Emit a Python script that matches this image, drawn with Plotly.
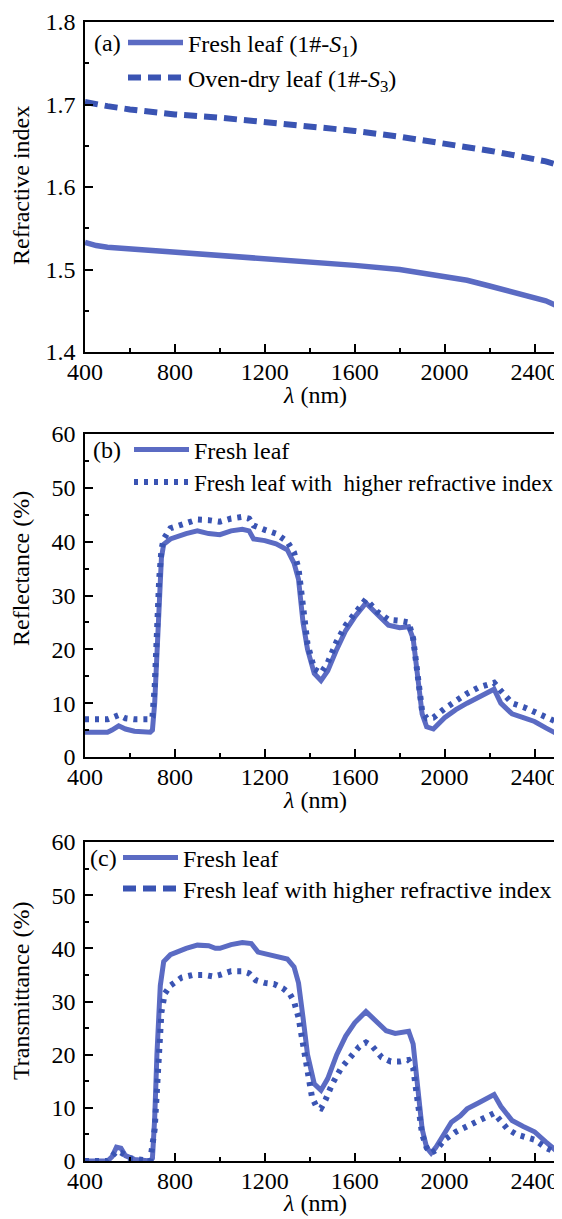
import plotly.graph_objects as go

# ---------------- data ----------------
# (a) refractive index
wl_a = [400, 450, 500, 600, 800, 1000, 1200, 1400, 1600, 1800, 2000, 2100, 2200, 2300, 2400, 2450, 2500]
n_fresh = [1.533, 1.529, 1.527, 1.525, 1.522, 1.518, 1.514, 1.510, 1.505, 1.500, 1.492, 1.487, 1.480, 1.473, 1.466, 1.462, 1.456]
n_dry = [1.703, 1.700, 1.698, 1.694, 1.688, 1.684, 1.679, 1.674, 1.668, 1.661, 1.653, 1.649, 1.644, 1.639, 1.634, 1.631, 1.627]

# (b) reflectance
wl_rf = [400, 500, 520, 550, 580, 620, 690, 700, 710, 720, 730, 740, 750, 780, 850, 900, 950, 1000,
         1050, 1100, 1130, 1150, 1200, 1250, 1300, 1330, 1350, 1370, 1390, 1420, 1450, 1480, 1520,
         1560, 1600, 1650, 1700, 1750, 1800, 1840, 1860, 1880, 1900, 1920, 1950, 2000, 2050, 2100,
         2150, 2200, 2220, 2250, 2300, 2350, 2400, 2450, 2500]
refl_fresh = [4.6, 4.6, 5.0, 5.8, 5.2, 4.8, 4.6, 5.0, 10.0, 20.0, 30.0, 37.0, 39.5, 40.5, 41.5, 42.0, 41.5, 41.3,
              42.0, 42.3, 42.0, 40.5, 40.2, 39.6, 38.5, 36.0, 33.0, 25.0, 20.0, 15.5, 14.2, 16.0, 20.0,
              23.5, 26.0, 28.6, 26.5, 24.5, 24.0, 24.2, 22.0, 15.0, 8.0, 5.6, 5.2, 7.3, 8.8, 10.0,
              11.0, 12.2, 12.6, 10.0, 8.0, 7.3, 6.6, 5.4, 4.3]
refl_higher = [7.0, 7.0, 7.3, 7.8, 7.2, 7.0, 7.0, 7.5, 13.0, 24.0, 33.0, 38.5, 40.5, 42.5, 43.6, 44.1, 44.0, 43.7,
               44.3, 44.6, 44.3, 43.0, 42.2, 41.5, 40.0, 38.0, 35.0, 28.0, 21.0, 16.3, 15.6, 17.5, 21.5,
               24.5, 26.8, 29.3, 27.0, 25.5, 25.3, 25.0, 22.0, 15.0, 8.5, 7.2, 7.3, 9.0, 10.5, 11.8,
               12.9, 13.7, 13.8, 12.3, 10.0, 9.3, 8.3, 7.5, 6.5]

# (c) transmittance
wl_tr = [400, 500, 520, 540, 560, 580, 620, 690, 700, 710, 720, 735, 750, 780, 850, 900, 950, 980, 1000,
         1050, 1100, 1140, 1170, 1200, 1250, 1300, 1330, 1350, 1370, 1390, 1420, 1450, 1480, 1520,
         1560, 1600, 1650, 1700, 1740, 1780, 1840, 1860, 1880, 1900, 1920, 1940, 1960, 2000, 2030,
         2070, 2100, 2150, 2200, 2220, 2250, 2300, 2350, 2400, 2450, 2500]
tran_fresh = [0.0, 0.0, 0.8, 2.6, 2.4, 1.0, 0.3, 0.0, 0.5, 8.0, 20.0, 33.0, 37.5, 38.8, 40.0, 40.6, 40.5, 40.0, 40.0,
              40.7, 41.1, 40.9, 39.3, 39.0, 38.7, 38.0, 36.5, 33.5, 27.0, 20.0, 14.5, 13.3, 15.5, 20.0,
              23.5, 26.0, 28.1, 26.0, 24.5, 24.0, 24.4, 22.0, 14.0, 6.0, 2.5, 1.5, 2.5, 5.5, 7.3,
              8.5, 9.8, 10.9, 12.0, 12.5, 10.3, 7.6, 6.5, 5.5, 3.6, 1.8]
wl_tr2 = [400, 500, 540, 560, 600, 690, 710, 725, 740, 755, 780, 830, 880, 930, 970, 1000, 1050, 1100,
          1130, 1160, 1200, 1240, 1280, 1310, 1330, 1350, 1370, 1390, 1410, 1430, 1450, 1470, 1500,
          1540, 1580, 1620, 1650, 1680, 1720, 1760, 1800, 1840, 1860, 1880, 1900, 1920, 1940, 1960,
          2000, 2050, 2100, 2150, 2200, 2220, 2250, 2280, 2320, 2360, 2400, 2450, 2500]
tran_higher = [0.0, 0.0, 1.8, 1.6, 0.5, 0.0, 6.0, 18.0, 28.0, 31.5, 33.0, 34.5, 35.0, 35.0, 34.7, 35.0, 35.7, 35.7,
               35.3, 34.0, 33.5, 33.3, 32.5, 31.5, 30.0, 27.0, 22.0, 16.0, 12.0, 10.2, 9.9, 11.5, 14.5,
               17.5, 19.5, 21.5, 22.3, 21.5, 19.5, 18.7, 18.7, 19.0, 17.5, 11.0, 5.0, 2.5, 1.5, 2.0,
               4.0, 5.5, 6.5, 7.5, 8.7, 9.0, 7.5, 6.0, 5.0, 4.5, 4.0, 2.5, 1.5]

x_ticks = [400, 800, 1200, 1600, 2000, 2400]
x_title = "<i>λ</i> (nm)"
y_titles = ["Refractive index", "Reflectance (%)", "Transmittance (%)"]
panel_tags = ["(a)", "(b)", "(c)"]

# ---------------- style ----------------
C_SOLID = "#5B6BC3"
C_DASH = "#3A54B3"
FONT = "Liberation Serif, Times New Roman, serif"
OFF = 8  # page body margin offset
W, H = 562 - OFF, 1219 - OFF
# plot region in reference page pixels
L_PX, R_PX, T_PX, B_PX = 85, 557, 22, 1161
ML, MR, MT, MB = L_PX - OFF, W - (R_PX - OFF), T_PX - OFF, H - (B_PX - OFF)
PW, PH = W - ML - MR, H - MT - MB


def px(xp):
    return (xp - L_PX) / PW


def py(yp):
    return (B_PX - yp) / PH


fig = go.Figure()

# panel a
fig.add_trace(go.Scatter(x=wl_a, y=n_fresh, mode="lines", name="Fresh leaf (1#-<i>S</i><sub>1</sub>)",
                         line=dict(color=C_SOLID, width=5.5), xaxis="x", yaxis="y", legend="legend"))
fig.add_trace(go.Scatter(x=wl_a, y=n_dry, mode="lines", name="Oven-dry leaf (1#-<i>S</i><sub>3</sub>)",
                         line=dict(color=C_DASH, width=6, dash="13px,7px"), xaxis="x", yaxis="y", legend="legend2"))
# panel b
fig.add_trace(go.Scatter(x=wl_rf, y=refl_fresh, mode="lines", name="Fresh leaf",
                         line=dict(color=C_SOLID, width=5), xaxis="x2", yaxis="y2", legend="legend3"))
fig.add_trace(go.Scatter(x=wl_rf, y=refl_higher, mode="lines", name="Fresh leaf with\u00a0 higher refractive index",
                         line=dict(color=C_DASH, width=6, dash="4px,6px"), xaxis="x2", yaxis="y2", legend="legend4"))
# panel c
fig.add_trace(go.Scatter(x=wl_tr, y=tran_fresh, mode="lines", name="Fresh leaf",
                         line=dict(color=C_SOLID, width=5), xaxis="x3", yaxis="y3", legend="legend5"))
fig.add_trace(go.Scatter(x=wl_tr2, y=tran_higher, mode="lines", name="Fresh leaf with higher refractive index",
                         line=dict(color=C_DASH, width=6, dash="4px,6px"), xaxis="x3", yaxis="y3",
                         showlegend=False))
fig.add_trace(go.Scatter(x=[None], y=[None], mode="lines", name="Fresh leaf with higher refractive index",
                         line=dict(color=C_DASH, width=6, dash="13px,7px"), xaxis="x3", yaxis="y3", legend="legend6"))


def xax(anchor):
    return dict(range=[400, 2500], tickvals=x_ticks, ticks="inside", ticklen=8, tickwidth=1.5, tickcolor="black",
                showline=True, linewidth=1.5, linecolor="black", mirror=True, showgrid=False, zeroline=False,
                minor=dict(ticks="inside", ticklen=4, tickwidth=1.5, tickcolor="black",
                           tickvals=[600, 1000, 1400, 1800, 2200]),
                tickfont=dict(size=24, family=FONT, color="black"), ticklabelstandoff=-3, anchor=anchor,
                domain=[0, 1], automargin=False, fixedrange=True)


def yax(rng, dt, mdt, fmt, dom, anchor):
    return dict(range=rng, dtick=dt, tick0=rng[0], tickformat=fmt, ticks="inside", ticklen=8, tickwidth=1.5,
                tickcolor="black", showline=True, linewidth=1.5, linecolor="black", mirror=True, showgrid=False,
                zeroline=False, minor=dict(ticks="inside", ticklen=4, tickwidth=1.5, tickcolor="black", dtick=mdt,
                                           tick0=rng[0]),
                tickfont=dict(size=24, family=FONT, color="black"), ticklabelstandoff=3, anchor=anchor, domain=dom,
                automargin=False, fixedrange=True)


def leg(xl, yc, size=24):
    return dict(x=px(xl), y=py(yc), font=dict(size=size, family=FONT, color="black"), bgcolor="rgba(0,0,0,0)",
                borderwidth=0, xanchor="left", yanchor="middle", itemwidth=55, tracegroupgap=0, itemclick=False)


txt_font = dict(size=24, family=FONT, color="black")
annotations = []
# axis titles
for yc in (395, 800, 1203):
    annotations.append(dict(text=x_title, x=px(315), y=py(yc), xref="paper", yref="paper", xanchor="center",
                            yanchor="middle", showarrow=False, font=txt_font))
for t, yc in zip(y_titles, (186, 569, 991)):
    annotations.append(dict(text=t, x=px(21), y=py(yc), xref="paper", yref="paper", xanchor="center",
                            yanchor="middle", textangle=-90, showarrow=False, font=txt_font))
for t, xl, yc in zip(panel_tags, (92, 91, 88), (43, 450, 858)):
    annotations.append(dict(text=t, x=px(xl), y=py(yc), xref="paper", yref="paper", xanchor="left",
                            yanchor="middle", showarrow=False, font=txt_font))

fig.update_layout(
    width=W, height=H, margin=dict(l=ML, r=MR, t=MT, b=MB, pad=0, autoexpand=False),
    paper_bgcolor="white", plot_bgcolor="white",
    font=dict(family=FONT, size=24, color="black"),
    xaxis=xax("y"), xaxis2=xax("y2"), xaxis3=xax("y3"),
    yaxis=yax([1.4, 1.8], 0.1, 0.05, ".1f", [py(352), 1.0], "x"),
    yaxis2=yax([0, 60], 10, 5, "d", [py(757), py(434)], "x2"),
    yaxis3=yax([0, 60], 10, 5, "d", [0.0, py(842)], "x3"),
    legend=leg(123, 43), legend2=leg(123, 78),
    legend3=leg(129, 450), legend4=leg(129, 482, 23),
    legend5=leg(118, 858), legend6=leg(118, 889),
    showlegend=True,
    annotations=annotations,
)

fig.write_html("out.html")
